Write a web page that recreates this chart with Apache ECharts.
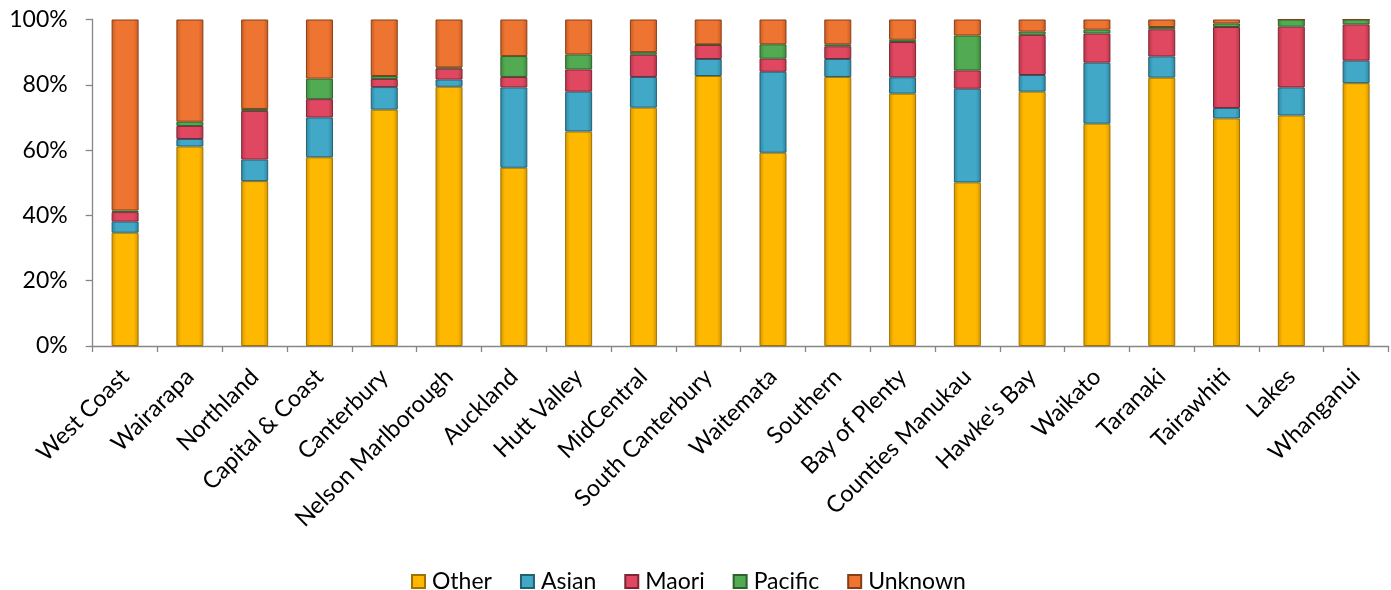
<!DOCTYPE html>
<html>
<head>
<meta charset="utf-8">
<script src="https://cdn.jsdelivr.net/npm/echarts@6/dist/echarts.min.js"></script>
<style>html,body{margin:0;padding:0;background:#fff}#c{width:1391px;height:590px}</style>
</head>
<body>
<div id="c"></div>
<script>
const categories = ["West Coast","Wairarapa","Northland","Capital & Coast","Canterbury","Nelson Marlborough","Auckland","Hutt Valley","MidCentral","South Canterbury","Waitemata","Southern","Bay of Plenty","Counties Manukau","Hawke's Bay","Waikato","Taranaki","Tairawhiti","Lakes","Whanganui"];
const other   = [34.7,61.1,50.5,57.8,72.4,79.4,54.6,65.7,73.0,82.7,59.2,82.4,77.3,50.1,77.9,68.1,82.2,69.7,70.6,80.5];
const asian   = [3.4,2.3,6.6,12.2,6.9,2.2,24.6,12.2,9.4,5.2,24.8,5.5,5.0,28.7,5.1,18.7,6.5,3.2,8.6,6.9];
const maori   = [2.9,4.0,14.9,5.6,2.5,3.4,3.2,6.8,6.8,4.3,4.0,3.9,10.8,5.6,12.3,8.9,8.3,24.8,18.6,11.1];
const pacific = [0.5,1.3,0.6,6.3,0.9,0.3,6.4,4.6,0.8,0.2,4.4,0.6,0.7,10.7,1.0,1.2,0.7,1.1,2.2,1.5];
const unknown = [58.5,31.3,27.4,18.1,17.3,14.7,11.2,10.7,10.0,7.6,7.6,7.6,6.2,4.9,3.7,3.1,2.3,1.2,0,0];
const yTicks = [0,20,40,60,80,100];

const font = 'Lato, "Open Sans", sans-serif';
function grad(edge, mid){
  return new echarts.graphic.LinearGradient(0,0,1,0,[
    {offset:0,color:edge},{offset:0.18,color:mid},{offset:0.82,color:mid},{offset:1,color:edge}
  ]);
}
const styles = {
  Other:   {mid:'#FFB800', edge:'#D29400', border:'#A07200'},
  Asian:   {mid:'#41A8C7', edge:'#2E86A0', border:'#245F72'},
  Maori:   {mid:'#E04861', edge:'#B53649', border:'#7F2535'},
  Pacific: {mid:'#52AA52', edge:'#3D8A3D', border:'#2D622D'},
  Unknown: {mid:'#EE7432', edge:'#C65C22', border:'#8A3E16'}
};
const seriesData = [['Other',other],['Asian',asian],['Maori',maori],['Pacific',pacific],['Unknown',unknown]];

const chart = echarts.init(document.getElementById('c'));
chart.setOption({
  animation:false,
  backgroundColor:'#fff',
  color: seriesData.map(s=>styles[s[0]].mid),
  grid:{left:92.7,right:2.5,top:19.5,bottom:244,containLabel:false},
  legend:{
    top:565, left:406, itemWidth:13, itemHeight:13, itemGap:28,
    icon:'rect',
    textStyle:{fontFamily:font,fontSize:23,color:'#000',padding:[0,0,0,2]},
    data: seriesData.map(s=>s[0])
  },
  xAxis:{
    type:'category', data:categories,
    axisLine:{lineStyle:{color:'#868686',width:1.3}},
    axisTick:{show:true,alignWithLabel:false,length:6,lineStyle:{color:'#868686',width:1.3}},
    axisLabel:{rotate:45,interval:0,fontFamily:font,fontSize:23.5,color:'#000',margin:27}
  },
  yAxis:{
    type:'value', min:0, max:100, interval:20,
    axisLine:{show:true,lineStyle:{color:'#868686',width:1.3}},
    axisTick:{show:true,inside:false,length:7,lineStyle:{color:'#868686',width:1.3}},
    splitLine:{show:false},
    axisLabel:{fontFamily:font,fontSize:23,color:'#000',margin:25,
      formatter:v=> yTicks.includes(v) ? v+'%' : ''}
  },
  series: seriesData.map(([name,vals])=>({
    name, type:'bar', stack:'total', barWidth:27, data:vals,
    itemStyle:{color:grad(styles[name].edge,styles[name].mid),borderColor:styles[name].border,borderWidth:1}
  }))
});
</script>
</body>
</html>
